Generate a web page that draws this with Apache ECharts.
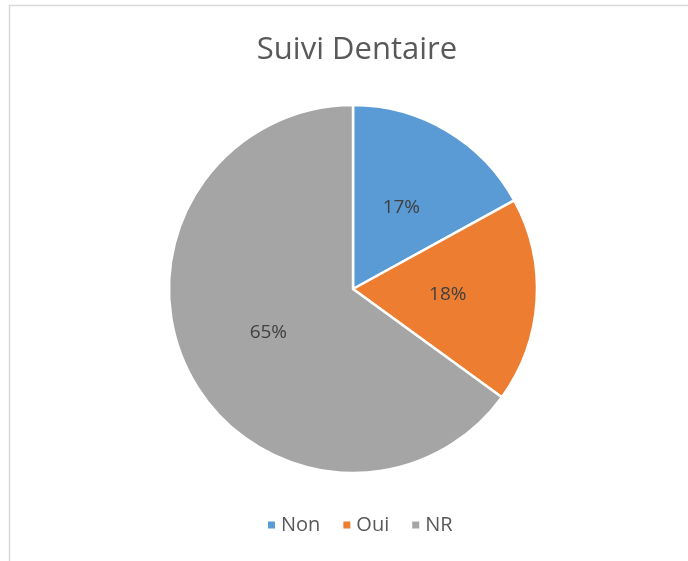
<!DOCTYPE html>
<html><head><meta charset="utf-8">
<script src="https://cdn.jsdelivr.net/npm/echarts@6/dist/echarts.min.js"></script>
<style>html,body{margin:0;padding:0;background:#fff}#c{width:688px;height:561px}</style>
</head><body><div id="c"></div>
<script>
const categories = ['Non', 'Oui', 'NR'];
const values = [17, 18, 65];
const colors = ['#5B9BD5', '#ED7D31', '#A5A5A5'];
const chart = echarts.init(document.getElementById('c'));
chart.setOption({
  animation: false,
  graphic: [{type: 'rect', shape: {x: 9.5, y: 5.5, width: 700, height: 600}, style: {fill: 'none', stroke: '#D9D9D9', lineWidth: 1.5}, z: -1}],
  title: {text: 'Suivi Dentaire', left: 352, textAlign: 'center', top: 30, textStyle: {fontFamily: 'Open Sans', fontSize: 31, fontWeight: 'normal', color: '#595959'}},
  legend: {bottom: 21, left: 261, itemWidth: 9, itemHeight: 9, itemGap: 21, icon: 'rect',
    textStyle: {fontFamily: 'Open Sans', fontSize: 20, color: '#595959'},
    data: categories},
  series: [{
    type: 'pie', center: [353, 289], radius: 184, startAngle: 90, clockwise: true,
    itemStyle: {borderColor: '#fff', borderWidth: 2.5},
    label: {position: 'inside', formatter: p => p.value + '%', fontFamily: 'Open Sans', fontSize: 19, color: '#404040'},
    labelLine: {show: false},
    data: categories.map((c, i) => ({name: c, value: values[i], itemStyle: {color: colors[i]}}))
  }]
});
</script></body></html>
